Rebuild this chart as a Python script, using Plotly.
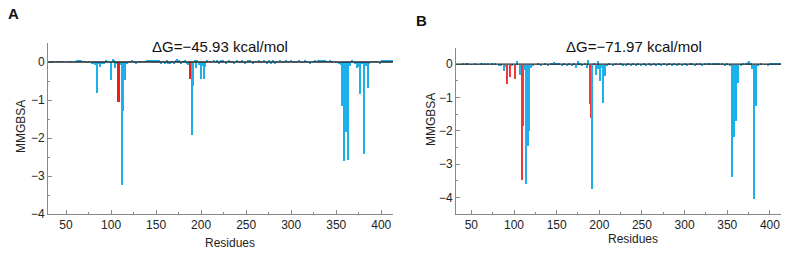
import plotly.graph_objects as go

# ---------------- Panel A data ----------------
a_res = [35, 37, 40, 44, 47, 52, 56, 60, 62, 63, 65, 67, 70, 73, 76, 79, 81, 82, 84, 85, 87, 88, 90, 92, 95, 97,
         100, 102, 104, 105, 106, 108, 109, 111, 112, 113, 114, 116, 118, 120, 123, 126, 128, 131, 134, 137,
         140, 142, 144, 146, 148, 150, 152, 154, 156, 158, 160, 162, 164, 166, 168, 170, 172, 174, 176, 178,
         180, 182, 184, 186, 188, 190, 191, 193, 194, 196, 198, 200, 202, 203, 205, 207, 210, 214, 218, 220,
         222, 225, 228, 231, 234, 237, 240, 243, 246, 249, 252, 255, 258, 261, 264, 267, 270, 273, 276, 278,
         280, 282, 285, 288, 291, 294, 297, 300, 303, 306, 309, 312, 315, 318, 321, 324, 327, 330, 332, 334,
         336, 338, 340, 343, 346, 350, 353, 355, 357, 359, 361, 363, 365, 368, 371, 373, 375, 377, 379, 381,
         383, 385, 387, 390, 393, 396, 399, 401, 403, 405, 407, 409, 411, 413]
a_val = [0.02, 0.01, 0.02, 0.01, 0.02, 0.01, 0.02, 0.01, 0.05, 0.06, 0.04, 0.03, 0.02, -0.02, 0.02, -0.03, -0.06,
         -0.08, -0.05, -0.82, -0.05, -0.12, -0.06, -0.04, 0.03, 0.02,
         -0.48, 0.07, 0.05, -0.15, -0.05, -1.04, -1.06, -0.08, -3.24, -1.28, -0.10, -0.47, -0.04, 0.02, 0.03,
         0.02, -0.03, 0.02, 0.01, 0.02,
         0.03, 0.05, 0.06, 0.05, 0.04, 0.06, 0.04, 0.03, -0.03, 0.02, -0.04, 0.03, -0.05, -0.03, 0.02, -0.04,
         0.03, 0.07, 0.04, -0.03,
         0.02, 0.03, -0.05, -0.08, -0.45, -1.92, -0.64, 0.05, -0.15, 0.06, -0.08, -0.44, -0.10, -0.44, -0.12,
         0.03, 0.02, 0.03, 0.04, -0.03,
         0.05, 0.03, -0.04, 0.03, 0.02, -0.03, 0.04, -0.02, 0.03, -0.03, 0.04, 0.03, -0.03, 0.02, 0.03, -0.02,
         0.03, -0.04, 0.03, -0.05,
         0.03, -0.04, 0.02, 0.03, -0.02, 0.04, 0.02, 0.03, -0.02, 0.02, 0.03, -0.02, 0.03, 0.02, -0.03, 0.02,
         0.03, 0.04, 0.05, 0.04,
         0.03, 0.04, 0.02, 0.03, 0.02, -0.02, -0.05, -0.08, -1.15, -2.60, -1.84, -2.57, -0.10, 0.03, -0.04,
         -0.15, -0.12, -0.85, -0.06, -2.41,
         -0.10, -0.69, -0.04, 0.02, 0.02, 0.01, -0.04, 0.03, 0.04, 0.04, 0.03, 0.04, 0.03, 0.03]
a_red = [108, 109, 188]

# ---------------- Panel B data ----------------
b_res = [37, 40, 44, 46, 50, 54, 58, 62, 63, 66, 70, 74, 78, 82, 85, 88, 90, 92, 95, 98, 101, 104, 107, 109,
         110, 111, 112, 114, 116, 118, 120, 122, 128, 132, 136, 140, 143, 145, 147, 149, 151, 153, 156, 159,
         162, 165, 168, 171, 173, 175, 177, 180, 183, 186, 187, 189, 190, 192, 194, 196, 198, 199, 201, 203,
         205, 207, 209, 212, 216, 220, 224, 226, 228, 231, 234, 237, 240, 243, 246, 249, 252, 255, 258, 261,
         264, 267, 270, 273, 276, 279, 282, 285, 288, 291, 294, 297, 300, 303, 306, 309, 312, 315, 318, 321,
         324, 327, 330, 333, 335, 337, 339, 341, 344, 347, 350, 353, 356, 358, 360, 363, 366, 369, 372, 374,
         376, 378, 379, 381, 384, 386, 390, 394, 398, 400, 402, 404, 406, 408, 410, 412]
b_val = [0.01, 0.02, 0.02, 0.03, 0.01, 0.02, 0.01, 0.05, 0.04, 0.03, 0.02, 0.03, 0.02, -0.03, -0.05, -0.18,
         -0.08, -0.57, -0.37, -0.05, -0.42, 0.10, -0.32, -0.10,
         -3.46, -1.83, -0.15, -3.58, -2.45, -1.98, -0.10, -0.05, 0.02, -0.03, 0.02, -0.05, 0.04, 0.06, 0.07,
         0.06, 0.05, 0.03, -0.03, 0.02,
         -0.04, 0.03, -0.03, 0.04, -0.10, 0.12, 0.05, -0.04, 0.03, -0.10, 0.15, -1.19, -1.60, -3.74, 0.05,
         -0.30, 0.10, -0.12, -0.50, -0.10,
         -1.14, -0.35, -0.05, 0.02, -0.03, 0.02, 0.04, 0.05, -0.04, -0.03, 0.03, -0.04, 0.03, -0.03, 0.02,
         -0.04, 0.03, -0.03, 0.02, -0.04,
         0.03, -0.02, 0.03, -0.03, 0.02, -0.04, 0.03, -0.02, 0.02, -0.03, 0.02, -0.03, 0.03, -0.02, 0.02, 0.03,
         -0.03, 0.02, 0.03, -0.02,
         0.03, 0.02, 0.03, 0.04, 0.05, 0.04, 0.05, 0.03, 0.02, -0.03, 0.02, -0.05, -3.38, -2.17, -1.68, -0.54,
         -0.04, 0.03, 0.04, 0.08,
         0.10, 0.06, -0.12, -4.03, -1.25, -0.03, 0.02, 0.01, -0.03, 0.04, 0.05, 0.04, 0.05, 0.04, 0.03, 0.03]
b_red = [92, 95, 101, 110, 111, 189, 190]

titles = ["ΔG=−45.93 kcal/mol", "ΔG=−71.97 kcal/mol"]
panel_labels = ["A", "B"]
x_ticks = [50, 100, 150, 200, 250, 300, 350, 400]

BLUE = "#1CB0EC"
RED_A = "#F21C1C"
RED_B = "#F0383C"
FONT = "Liberation Sans, Arial, sans-serif"

W, H = 788, 254


def px(x):
    return x / W


def py(y):
    return 1 - y / H


fig = go.Figure()
fig.add_trace(go.Bar(
    x=a_res, y=a_val, width=1.6,
    marker=dict(color=[RED_A if r in a_red else BLUE for r in a_res], line=dict(width=0)),
    xaxis="x", yaxis="y", showlegend=False))
fig.add_trace(go.Bar(
    x=b_res, y=b_val, width=1.4,
    marker=dict(color=[RED_B if r in b_red else BLUE for r in b_res], line=dict(width=0)),
    xaxis="x2", yaxis="y2", showlegend=False))

dom_a_x = [px(48), px(393)]
dom_a_y = [py(214), py(43)]
dom_b_x = [px(456), px(781)]
dom_b_y = [py(214), py(47.5)]

axis_common = dict(
    showgrid=False, showline=True, linecolor="#8a8a8a", linewidth=1, automargin=False,
    ticks="inside", ticklen=4, tickcolor="#8a8a8a", tickwidth=1,
    tickfont=dict(family=FONT, size=12, color="#222"),
)

fig.update_layout(
    width=W, height=H, margin=dict(l=0, r=0, t=0, b=0, autoexpand=False),
    paper_bgcolor="white", plot_bgcolor="white", bargap=0,
    xaxis=dict(domain=dom_a_x, anchor="y", range=[30, 413], tickvals=x_ticks,
               minor=dict(dtick=25, tick0=0, ticks="inside", ticklen=2, tickcolor="#8a8a8a"),
               zeroline=False, **axis_common),
    yaxis=dict(domain=dom_a_y, anchor="x", range=[-4, 0.5], dtick=1, zeroline=False,
               minor=dict(dtick=0.5, ticks="inside", ticklen=2, tickcolor="#8a8a8a"),
               **axis_common),
    xaxis2=dict(domain=dom_b_x, anchor="y2", range=[32, 413], tickvals=x_ticks,
                minor=dict(dtick=25, tick0=0, ticks="inside", ticklen=2, tickcolor="#8a8a8a"),
                zeroline=False, **axis_common),
    yaxis2=dict(domain=dom_b_y, anchor="x2", range=[-4.5, 0.5], dtick=1, zeroline=False,
                minor=dict(dtick=0.5, ticks="inside", ticklen=2, tickcolor="#8a8a8a"),
                **axis_common),
)

# zero reference lines drawn above the bars
for xr, yr in (("x domain", "y"), ("x2 domain", "y2")):
    fig.add_shape(type="line", xref=xr, yref=yr, x0=0, x1=1, y0=0, y1=0,
                  line=dict(color="#2a2a2a", width=1.3), layer="above")

# titles
for txt, cx, cy in ((titles[0], 220, 46), (titles[1], 634, 46)):
    fig.add_annotation(text=txt, x=px(cx), y=py(cy), xref="paper", yref="paper",
                       showarrow=False, font=dict(family=FONT, size=15, color="#111"),
                       xanchor="center", yanchor="middle")
# panel letters
for txt, cx, cy in ((panel_labels[0], 13, 13), (panel_labels[1], 421, 21)):
    fig.add_annotation(text="<b>" + txt + "</b>", x=px(cx), y=py(cy), xref="paper", yref="paper",
                       showarrow=False, font=dict(family=FONT, size=15, color="#111"),
                       xanchor="center", yanchor="middle")
# axis titles
for cx, cy in ((21, 127), (431, 119)):
    fig.add_annotation(text="MMGBSA", x=px(cx), y=py(cy), xref="paper", yref="paper",
                       showarrow=False, textangle=-90, font=dict(family=FONT, size=12, color="#222"),
                       xanchor="center", yanchor="middle")
for cx, cy in ((230, 243), (633, 239)):
    fig.add_annotation(text="Residues", x=px(cx), y=py(cy), xref="paper", yref="paper",
                       showarrow=False, font=dict(family=FONT, size=12, color="#222"),
                       xanchor="center", yanchor="middle")

# remove the default page margin so the 788x254 figure fills the window exactly
fig.write_html(
    "out.html",
    config={"displayModeBar": False},
    post_script="document.body.style.margin='0';document.body.style.overflow='hidden';",
)
